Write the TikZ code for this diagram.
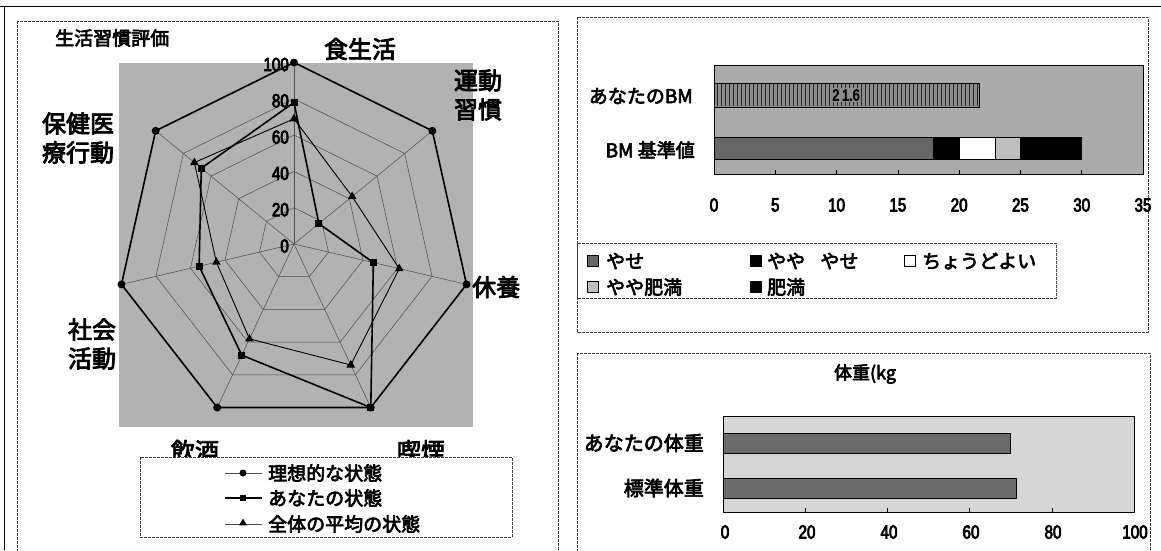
\documentclass[tikz,border=0pt]{standalone}
\usepackage{fontspec}
\setmainfont{Noto Sans CJK JP}[FakeBold=3.5]
\newfontfamily\numfont{Liberation Sans}[FakeStretch=0.8,FakeBold=4]
\usetikzlibrary{shapes.geometric}
\tikzset{
  declare function={rx(\k,\v)=294+0.975*1.815*\v*cos(90-\k*360/7);
                    ry(\k,\v)=244-1.815*\v*sin(90-\k*360/7);},
  frameline/.style={draw=black!75, line width=0.7pt, dash pattern=on 3pt off 1pt},
  gridline/.style={draw=black!70, line width=0.5pt},
  idealline/.style={draw=black, line width=1.6pt, line join=round},
  youline/.style={draw=black, line width=1.6pt, line join=round},
  avgline/.style={draw=black, line width=0.9pt, line join=round},
  dotmark/.style={circle, fill=black, inner sep=0pt, minimum size=8pt},
  sqmark/.style={rectangle, fill=black, inner sep=0pt, minimum size=7pt},
  trimark/.style={regular polygon, regular polygon sides=3, fill=black, inner sep=0pt, minimum size=10pt},
  axlabel/.style={font=\fontsize{24}{29}\selectfont, align=center, inner sep=0pt},
  ticklabel/.style={font=\fontsize{19}{21}\selectfont\numfont, inner sep=1pt},
  legtext/.style={font=\fontsize{19}{22}\selectfont, anchor=west, inner sep=0pt},
  catlabel/.style={font=\fontsize{19}{22}\selectfont, anchor=east, inner sep=0pt},
  swatch/.style={draw=black, line width=0.6pt, minimum size=11pt, inner sep=0pt},
  plotbox/.style={draw=black, line width=1pt},
  barbox/.style={draw=black, line width=0.9pt},
}
\begin{document}
\begin{tikzpicture}[x=1pt,y=-1pt,line join=bevel]
\useasboundingbox (0,0) rectangle (1161,550);
\fill[white] (0,0) rectangle (1161,550);
%% frames
\draw[line width=0.8pt] (0,6) -- (1161,6);
\draw[line width=0.8pt] (4,6) -- (4,550);
\draw[frameline] (17,21) rectangle (558,553);
\draw[frameline] (577,17) rectangle (1148,332);
\draw[frameline] (577,353) rectangle (1150,553);
%%
%% radar chart
\node[font=\fontsize{19}{22}\selectfont, anchor=west, inner sep=0pt] (title) at (55,38) {生活習慣評価};
\fill[black!30] (119,63) rectangle (473,427);
\coordinate (ctr) at (294,244);
\foreach \k in {0,...,6}{
  \foreach \v in {20,40,60,80,100}{\coordinate (g\v-\k) at ({rx(\k,\v)},{ry(\k,\v)});}
}
\foreach \v in {20,40,60,80,100}
  \draw[gridline] (g\v-0) -- (g\v-1) -- (g\v-2) -- (g\v-3) -- (g\v-4) -- (g\v-5) -- (g\v-6) -- cycle;
\foreach \k in {0,...,6}
  \draw[gridline] (ctr) -- (g100-\k);
% Node: tick labels
\foreach \v in {0,20,...,100}
  \node[ticklabel, anchor=east] (t\v) at (290,{246-1.815*\v}) {\v};
% Edge: ideal state
\draw[idealline] (g100-0) -- (g100-1) -- (g100-2) -- (g100-3) -- (g100-4) -- (g100-5) -- (g100-6) -- cycle;
% Edge: your state
\foreach \k/\v in {0/78,1/18,2/46,3/100,4/68,5/55,6/67}
  \coordinate (you\k) at ({rx(\k,\v)},{ry(\k,\v)});
\draw[youline] (you0) -- (you1) -- (you2) -- (you3) -- (you4) -- (you5) -- (you6) -- cycle;
% Edge: average state
\foreach \k/\v in {0/69,1/42,2/61,3/74,4/58,5/45,6/72}
  \coordinate (avg\k) at ({rx(\k,\v)},{ry(\k,\v)});
\draw[avgline] (avg0) -- (avg1) -- (avg2) -- (avg3) -- (avg4) -- (avg5) -- (avg6) -- cycle;
% Node: markers
\foreach \k in {0,...,6}{
  \node[dotmark] (im\k) at (g100-\k) {};
  \node[sqmark] (ym\k) at (you\k) {};
  \node[trimark] (am\k) at (avg\k) {};
}
% Node: axis labels
\node[axlabel] (diet) at (360,49) {食生活};
\node[axlabel] (exer) at (478,95) {運動\\習慣};
\node[axlabel, anchor=west] (rest) at (472,287) {休養};
\node[axlabel] (smok) at (421,451) {喫煙};
\node[axlabel] (drin) at (195,451) {飲酒};
\node[axlabel] (soci) at (92,344) {社会\\活動};
\node[axlabel] (heal) at (78,138) {保健医\\療行動};
% Node: legend
\draw[frameline, fill=white] (140,457) rectangle (512,537);
\draw[draw=black!70, line width=0.8pt] (225,473) -- (262,473);
\node[dotmark, minimum size=7pt] (lg1) at (243,473) {};
\node[legtext] (lt1) at (268,473) {理想的な状態};
\draw[line width=1.6pt] (225,498) -- (262,498);
\node[sqmark, minimum size=6pt] (lg2) at (243,498) {};
\node[legtext] (lt2) at (268,498) {あなたの状態};
\draw[draw=black!70, line width=0.8pt] (225,524) -- (262,524);
\node[trimark, minimum size=9pt] (lg3) at (243,523) {};
\node[legtext] (lt3) at (268,524) {全体の平均の状態};
%%
%% BMI chart
\fill[black!33] (714,65) rectangle (1143,174);
\draw[plotbox] (714,65) rectangle (1143,174);
\foreach \v in {5,10,...,30}
  \draw[line width=0.6pt] ({714+12.257*\v},174) -- ({714+12.257*\v},170);
% Node: your BMI bar
\fill[black!45] (714,83) rectangle (979,107);
\foreach \x in {717,721,...,977}
  \draw[black!85, line width=0.7pt] (\x,84) -- (\x,106);
\draw[barbox] (714,83) rectangle (979,107);
\node[font=\fontsize{16}{18}\selectfont\numfont, fill=black!45, inner sep=1pt] (bmival) at (846,95) {2\,1.6};
% Node: BMI reference bar
\fill[black!60] (714,137) rectangle (932.6,159);
\fill[black] (932.6,137) rectangle (959.1,159);
\fill[white] (959.1,137) rectangle (995.9,159);
\fill[black!25] (995.9,137) rectangle (1020.4,159);
\fill[black] (1020.4,137) rectangle (1081.7,159);
\draw[barbox] (714,137) rectangle (1081.7,159);
\draw[barbox] (959.1,137) -- (959.1,159) (995.9,137) -- (995.9,159) (1020.4,137) -- (1020.4,159);
\node[catlabel] (bmiyou) at (693,96) {あなたのBM};
\node[catlabel] (bmiref) at (695,150) {BM 基準値};
\foreach \v in {0,5,...,35}
  \node[ticklabel] (bx\v) at ({714+12.257*\v},205) {\v};
% Node: BMI legend
\draw[frameline] (577,243) rectangle (1056,298);
\node[swatch, fill=black!60] (sw1) at (593,261) {};
\node[legtext] (sl1) at (606,261) {やせ};
\node[swatch, fill=black] (sw2) at (756,261) {};
\node[legtext] (sl2) at (767,261) {やや\hspace{0.8em}やせ};
\node[swatch, fill=white] (sw3) at (910,261) {};
\node[legtext] (sl3) at (922,261) {ちょうどよい};
\node[swatch, fill=black!25] (sw4) at (593,287) {};
\node[legtext] (sl4) at (606,287) {やや肥満};
\node[swatch, fill=black] (sw5) at (756,287) {};
\node[legtext] (sl5) at (767,287) {肥満};
%%
%% weight chart
\node[font=\fontsize{18}{20}\selectfont, inner sep=0pt] (wtitle) at (865,374) {体重(kg};
\fill[black!16] (723,416) rectangle (1134,512);
\draw[plotbox] (723,416) rectangle (1134,512);
\foreach \v in {20,40,...,80}
  \draw[line width=0.6pt] ({723+4.11*\v},512) -- ({723+4.11*\v},508);
\fill[black!58] (723,433) rectangle (1010,453);
\draw[barbox] (723,433) rectangle (1010,453);
\fill[black!58] (723,478) rectangle (1016,498);
\draw[barbox] (723,478) rectangle (1016,498);
\node[catlabel, font=\fontsize{20}{22}\selectfont] (wyou) at (704,443) {あなたの体重};
\node[catlabel, font=\fontsize{20}{22}\selectfont] (wstd) at (704,488) {標準体重};
\foreach \v in {0,20,...,100}
  \node[ticklabel] (wx\v) at ({725+4.1*\v},532) {\v};
\end{tikzpicture}
\end{document}
